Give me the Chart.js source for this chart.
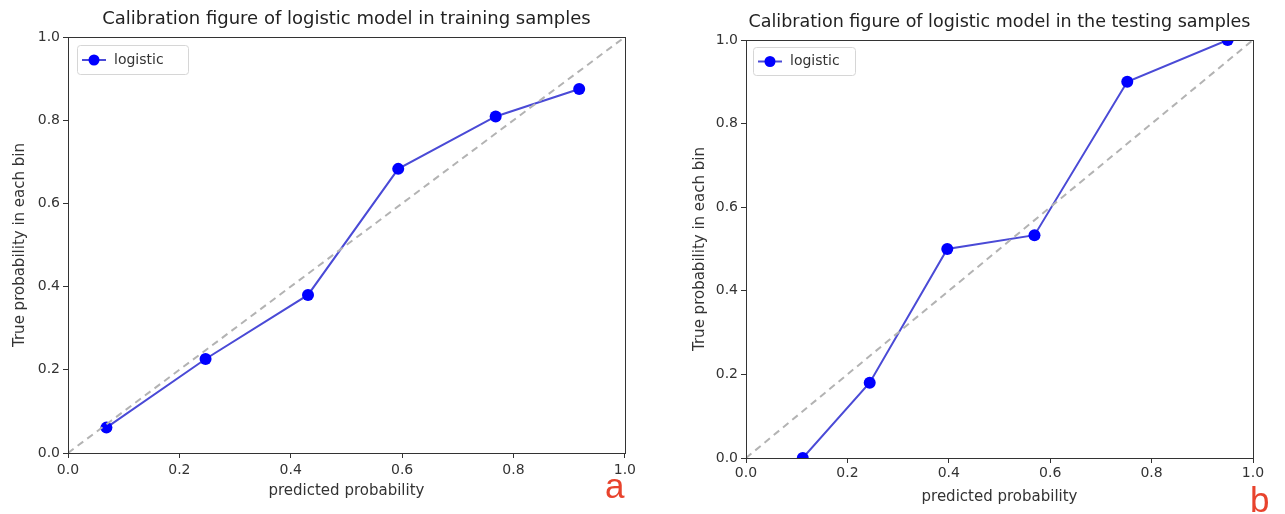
<!DOCTYPE html>
<html>
<head>
<meta charset="utf-8">
<script src="https://cdn.jsdelivr.net/npm/chart.js@4.4.1/dist/chart.umd.min.js"></script>
<style>
  body { margin: 0; background: #fff; width: 1285px; height: 514px; position: relative; overflow: hidden; }
  canvas { position: absolute; top: 0; }
  #cA { left: 0; }
  #cB { left: 645px; }
  .tag { position: absolute; color: #e8432d; font-family: "Liberation Sans", sans-serif; font-size: 35px; line-height: 1; }
</style>
</head>
<body>
<canvas id="cA" width="640" height="514"></canvas>
<canvas id="cB" width="640" height="514"></canvas>
<div class="tag" style="left:605px; top:468px;">a</div>
<div class="tag" style="left:1250px; top:482px;">b</div>
<script>
// values
var trainPred = [0.069, 0.247, 0.431, 0.593, 0.768, 0.918];
var trainTrue = [0.061, 0.226, 0.380, 0.683, 0.809, 0.875];
var testPred = [0.112, 0.244, 0.397, 0.569, 0.752, 0.950];
var testTrue = [0.0, 0.180, 0.500, 0.533, 0.900, 1.0];
var diagX = [0, 1];
var diagY = [0, 1];
var seriesName = "logistic";

Chart.defaults.font.family = "'DejaVu Sans'";
Chart.defaults.color = "#333";

function pairs(xs, ys) {
  var out = [];
  for (var i = 0; i < xs.length; i++) out.push({ x: xs[i], y: ys[i] });
  return out;
}

// frame round the plot area, like matplotlib spines
var frame = {
  id: "frame",
  afterDraw: function (chart) {
    var a = chart.chartArea, c = chart.ctx;
    c.save();
    c.strokeStyle = "#333";
    c.lineWidth = 1;
    c.strokeRect(Math.round(a.left) + 0.5, Math.round(a.top) + 0.5, Math.round(a.right - a.left), Math.round(a.bottom - a.top));
    c.restore();
  }
};

// title centred over the axes, not the whole canvas
var axTitle = {
  id: "axTitle",
  afterDraw: function (chart, args, o) {
    var a = chart.chartArea, c = chart.ctx;
    c.save();
    c.fillStyle = "#222";
    c.font = o.size + "px 'DejaVu Sans'";
    c.textAlign = "center";
    c.textBaseline = "middle";
    c.fillText(o.text, (a.left + a.right) / 2, o.y);
    c.restore();
  }
};

// legend drawn inside the axes (upper left)
var boxLegend = {
  id: "boxLegend",
  afterDatasetsDraw: function (chart, args, o) {
    var a = chart.chartArea, c = chart.ctx;
    var ds = chart.data.datasets[1];
    var x = a.left + o.dx, y = a.top + o.dy, w = o.w, h = o.h;
    c.save();
    c.fillStyle = "rgba(255,255,255,0.9)";
    c.strokeStyle = "#d6d6d6";
    c.lineWidth = 1;
    c.beginPath();
    c.roundRect(x + 0.5, y + 0.5, w, h, 3);
    c.fill();
    c.stroke();
    var cy = y + h / 2 + 0.5;
    c.strokeStyle = ds.borderColor;
    c.lineWidth = 2;
    c.beginPath();
    c.moveTo(x + 5, cy);
    c.lineTo(x + 29, cy);
    c.stroke();
    c.fillStyle = ds.pointBackgroundColor;
    c.beginPath();
    c.arc(x + 17, cy, 5.5, 0, Math.PI * 2);
    c.fill();
    c.fillStyle = "#333";
    c.font = o.fontSize + "px 'DejaVu Sans'";
    c.textBaseline = "middle";
    c.fillText(ds.label, x + 37, cy);
    c.restore();
  }
};

function makeChart(id, xs, ys, p) {
  var tickCb = function (v) { return Number(v).toFixed(1); };
  return new Chart(document.getElementById(id), {
    type: "line",
    data: {
      datasets: [
        {
          label: "diag",
          data: pairs(diagX, diagY),
          borderColor: "#b3b3b3",
          borderWidth: 2,
          borderDash: [7, 5],
          pointRadius: 0,
          fill: false
        },
        {
          label: seriesName,
          data: pairs(xs, ys),
          borderColor: "#4a4ad6",
          borderWidth: 2,
          pointRadius: 6,
          pointBackgroundColor: "#0000ff",
          pointBorderColor: "#0000ff",
          pointBorderWidth: 0,
          fill: false
        }
      ]
    },
    options: {
      responsive: false,
      animation: false,
      events: [],
      layout: { padding: { left: 0, right: p.padRight, top: p.padTop, bottom: 0 } },
      plugins: {
        legend: { display: false },
        tooltip: { enabled: false },
        title: { display: false },
        axTitle: { text: p.title, size: p.titleSize, y: p.titleY },
        boxLegend: p.legend
      },
      scales: {
        x: {
          type: "linear",
          min: 0,
          max: 1,
          afterFit: function (s) { s.height = p.xHeight; },
          ticks: { stepSize: 0.2, callback: tickCb, padding: p.xTickPad, font: { size: p.tickSize }, color: "#333", maxRotation: 0 },
          grid: { drawOnChartArea: false, drawTicks: true, tickLength: 5, tickColor: "#333" },
          border: { display: true, color: "#333" },
          title: { display: true, text: "predicted probability", color: "#333", font: { size: 15, lineHeight: 1.2 }, padding: { top: 0, bottom: p.xTitlePad } }
        },
        y: {
          type: "linear",
          min: 0,
          max: 1,
          afterFit: function (s) { s.width = p.yWidth; },
          ticks: { stepSize: 0.2, callback: tickCb, padding: 3, font: { size: p.tickSize }, color: "#333" },
          grid: { drawOnChartArea: false, drawTicks: true, tickLength: 5, tickColor: "#333" },
          border: { display: true, color: "#333" },
          title: { display: true, text: "True probability in each bin", color: "#333", font: { size: 15, lineHeight: 1.2 }, padding: { top: p.yTitlePad, bottom: 0 } }
        }
      }
    },
    plugins: [frame, axTitle, boxLegend]
  });
}

makeChart("cA", trainPred, trainTrue, {
  title: "Calibration figure of logistic model in training samples",
  titleSize: 18, titleY: 19, padTop: 37,
  padRight: 12, yWidth: 68, xHeight: 61,
  tickSize: 14, xTickPad: 4, xTitlePad: 14, yTitlePad: 11,
  legend: { dx: 9, dy: 8, w: 111, h: 29, fontSize: 14 }
});

makeChart("cB", testPred, testTrue, {
  title: "Calibration figure of logistic model in the testing samples",
  titleSize: 17.5, titleY: 22, padTop: 40,
  padRight: 32, yWidth: 101, xHeight: 56,
  tickSize: 14, xTickPad: 2, xTitlePad: 8, yTitlePad: 46,
  legend: { dx: 7, dy: 7, w: 102, h: 28, fontSize: 14 }
});
</script>
</body>
</html>
